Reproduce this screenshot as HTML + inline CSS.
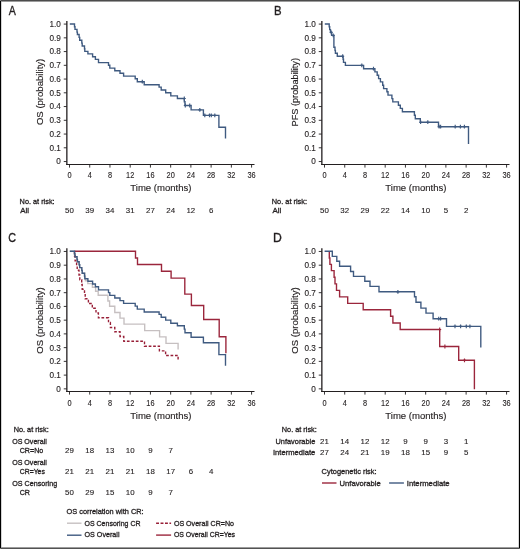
<!DOCTYPE html><html><head><meta charset="utf-8"><style>html,body{margin:0;padding:0;background:#fff;}svg{display:block;will-change:transform;} .t{stroke:#231f20;stroke-width:0.32px;} .n{stroke:#231f20;stroke-width:0.12px;} .m{stroke:#231f20;stroke-width:0.15px;}</style></head><body>
<svg width="520" height="549" viewBox="0 0 520 549" font-family="'Liberation Sans', sans-serif" fill="#231f20" stroke-width="0">
<rect x="0" y="0" width="520" height="549" fill="#fff"/>
<text x="8.85" y="14.50" font-size="12.2" text-anchor="start" textLength="7.1" lengthAdjust="spacingAndGlyphs" class="t">A</text>
<text x="274.10" y="14.60" font-size="12.2" text-anchor="start" textLength="7.6" lengthAdjust="spacingAndGlyphs" class="t">B</text>
<text x="8.35" y="241.90" font-size="12.2" text-anchor="start" textLength="7.8" lengthAdjust="spacingAndGlyphs" class="t">C</text>
<text x="272.95" y="241.80" font-size="12.2" text-anchor="start" class="t">D</text>
<line x1="66.85" y1="20.88" x2="66.85" y2="165.05" stroke="#231f20" stroke-width="1.3"/>
<line x1="66.19999999999999" y1="164.50" x2="254.5" y2="164.50" stroke="#231f20" stroke-width="1.15"/>
<line x1="63.74999999999999" y1="161.54" x2="66.85" y2="161.54" stroke="#231f20" stroke-width="0.9"/>
<text x="60.90" y="164.44" font-size="8.2" text-anchor="end" class="n">0</text>
<line x1="63.74999999999999" y1="147.79" x2="66.85" y2="147.79" stroke="#231f20" stroke-width="0.9"/>
<text x="60.90" y="150.69" font-size="8.2" text-anchor="end" class="n">0.1</text>
<line x1="63.74999999999999" y1="134.05" x2="66.85" y2="134.05" stroke="#231f20" stroke-width="0.9"/>
<text x="60.90" y="136.95" font-size="8.2" text-anchor="end" class="n">0.2</text>
<line x1="63.74999999999999" y1="120.30" x2="66.85" y2="120.30" stroke="#231f20" stroke-width="0.9"/>
<text x="60.90" y="123.20" font-size="8.2" text-anchor="end" class="n">0.3</text>
<line x1="63.74999999999999" y1="106.56" x2="66.85" y2="106.56" stroke="#231f20" stroke-width="0.9"/>
<text x="60.90" y="109.46" font-size="8.2" text-anchor="end" class="n">0.4</text>
<line x1="63.74999999999999" y1="92.81" x2="66.85" y2="92.81" stroke="#231f20" stroke-width="0.9"/>
<text x="60.90" y="95.71" font-size="8.2" text-anchor="end" class="n">0.5</text>
<line x1="63.74999999999999" y1="79.06" x2="66.85" y2="79.06" stroke="#231f20" stroke-width="0.9"/>
<text x="60.90" y="81.96" font-size="8.2" text-anchor="end" class="n">0.6</text>
<line x1="63.74999999999999" y1="65.32" x2="66.85" y2="65.32" stroke="#231f20" stroke-width="0.9"/>
<text x="60.90" y="68.22" font-size="8.2" text-anchor="end" class="n">0.7</text>
<line x1="63.74999999999999" y1="51.57" x2="66.85" y2="51.57" stroke="#231f20" stroke-width="0.9"/>
<text x="60.90" y="54.47" font-size="8.2" text-anchor="end" class="n">0.8</text>
<line x1="63.74999999999999" y1="37.83" x2="66.85" y2="37.83" stroke="#231f20" stroke-width="0.9"/>
<text x="60.90" y="40.73" font-size="8.2" text-anchor="end" class="n">0.9</text>
<line x1="63.74999999999999" y1="24.08" x2="66.85" y2="24.08" stroke="#231f20" stroke-width="0.9"/>
<text x="60.90" y="26.98" font-size="8.2" text-anchor="end" class="n">1.0</text>
<line x1="69.50" y1="164.50" x2="69.50" y2="167.60" stroke="#231f20" stroke-width="0.9"/>
<text x="69.50" y="177.90" font-size="8.3" text-anchor="middle" textLength="4.1" lengthAdjust="spacingAndGlyphs" class="n">0</text>
<line x1="89.73" y1="164.50" x2="89.73" y2="167.60" stroke="#231f20" stroke-width="0.9"/>
<text x="89.73" y="177.90" font-size="8.3" text-anchor="middle" textLength="4.1" lengthAdjust="spacingAndGlyphs" class="n">4</text>
<line x1="109.96" y1="164.50" x2="109.96" y2="167.60" stroke="#231f20" stroke-width="0.9"/>
<text x="109.96" y="177.90" font-size="8.3" text-anchor="middle" textLength="4.1" lengthAdjust="spacingAndGlyphs" class="n">8</text>
<line x1="130.20" y1="164.50" x2="130.20" y2="167.60" stroke="#231f20" stroke-width="0.9"/>
<text x="130.20" y="177.90" font-size="8.3" text-anchor="middle" textLength="8.2" lengthAdjust="spacingAndGlyphs" class="n">12</text>
<line x1="150.43" y1="164.50" x2="150.43" y2="167.60" stroke="#231f20" stroke-width="0.9"/>
<text x="150.43" y="177.90" font-size="8.3" text-anchor="middle" textLength="8.2" lengthAdjust="spacingAndGlyphs" class="n">16</text>
<line x1="170.66" y1="164.50" x2="170.66" y2="167.60" stroke="#231f20" stroke-width="0.9"/>
<text x="170.66" y="177.90" font-size="8.3" text-anchor="middle" textLength="8.2" lengthAdjust="spacingAndGlyphs" class="n">20</text>
<line x1="190.89" y1="164.50" x2="190.89" y2="167.60" stroke="#231f20" stroke-width="0.9"/>
<text x="190.89" y="177.90" font-size="8.3" text-anchor="middle" textLength="8.2" lengthAdjust="spacingAndGlyphs" class="n">24</text>
<line x1="211.12" y1="164.50" x2="211.12" y2="167.60" stroke="#231f20" stroke-width="0.9"/>
<text x="211.12" y="177.90" font-size="8.3" text-anchor="middle" textLength="8.2" lengthAdjust="spacingAndGlyphs" class="n">28</text>
<line x1="231.36" y1="164.50" x2="231.36" y2="167.60" stroke="#231f20" stroke-width="0.9"/>
<text x="231.36" y="177.90" font-size="8.3" text-anchor="middle" textLength="8.2" lengthAdjust="spacingAndGlyphs" class="n">32</text>
<line x1="251.59" y1="164.50" x2="251.59" y2="167.60" stroke="#231f20" stroke-width="0.9"/>
<text x="251.59" y="177.90" font-size="8.3" text-anchor="middle" textLength="8.2" lengthAdjust="spacingAndGlyphs" class="n">36</text>
<text x="130.30" y="191.40" font-size="9.9" text-anchor="start" textLength="61.2" lengthAdjust="spacingAndGlyphs" class="m">Time (months)</text>
<text transform="translate(42.8,91.9) rotate(-90)" font-size="9.6" text-anchor="middle" textLength="66.4" lengthAdjust="spacingAndGlyphs" class="m">OS (probability)</text>
<line x1="321.85" y1="20.88" x2="321.85" y2="165.05" stroke="#231f20" stroke-width="1.3"/>
<line x1="321.20000000000005" y1="164.50" x2="509.5" y2="164.50" stroke="#231f20" stroke-width="1.15"/>
<line x1="318.75" y1="161.54" x2="321.85" y2="161.54" stroke="#231f20" stroke-width="0.9"/>
<text x="315.90" y="164.44" font-size="8.2" text-anchor="end" class="n">0</text>
<line x1="318.75" y1="147.79" x2="321.85" y2="147.79" stroke="#231f20" stroke-width="0.9"/>
<text x="315.90" y="150.69" font-size="8.2" text-anchor="end" class="n">0.1</text>
<line x1="318.75" y1="134.05" x2="321.85" y2="134.05" stroke="#231f20" stroke-width="0.9"/>
<text x="315.90" y="136.95" font-size="8.2" text-anchor="end" class="n">0.2</text>
<line x1="318.75" y1="120.30" x2="321.85" y2="120.30" stroke="#231f20" stroke-width="0.9"/>
<text x="315.90" y="123.20" font-size="8.2" text-anchor="end" class="n">0.3</text>
<line x1="318.75" y1="106.56" x2="321.85" y2="106.56" stroke="#231f20" stroke-width="0.9"/>
<text x="315.90" y="109.46" font-size="8.2" text-anchor="end" class="n">0.4</text>
<line x1="318.75" y1="92.81" x2="321.85" y2="92.81" stroke="#231f20" stroke-width="0.9"/>
<text x="315.90" y="95.71" font-size="8.2" text-anchor="end" class="n">0.5</text>
<line x1="318.75" y1="79.06" x2="321.85" y2="79.06" stroke="#231f20" stroke-width="0.9"/>
<text x="315.90" y="81.96" font-size="8.2" text-anchor="end" class="n">0.6</text>
<line x1="318.75" y1="65.32" x2="321.85" y2="65.32" stroke="#231f20" stroke-width="0.9"/>
<text x="315.90" y="68.22" font-size="8.2" text-anchor="end" class="n">0.7</text>
<line x1="318.75" y1="51.57" x2="321.85" y2="51.57" stroke="#231f20" stroke-width="0.9"/>
<text x="315.90" y="54.47" font-size="8.2" text-anchor="end" class="n">0.8</text>
<line x1="318.75" y1="37.83" x2="321.85" y2="37.83" stroke="#231f20" stroke-width="0.9"/>
<text x="315.90" y="40.73" font-size="8.2" text-anchor="end" class="n">0.9</text>
<line x1="318.75" y1="24.08" x2="321.85" y2="24.08" stroke="#231f20" stroke-width="0.9"/>
<text x="315.90" y="26.98" font-size="8.2" text-anchor="end" class="n">1.0</text>
<line x1="324.50" y1="164.50" x2="324.50" y2="167.60" stroke="#231f20" stroke-width="0.9"/>
<text x="324.50" y="177.90" font-size="8.3" text-anchor="middle" textLength="4.1" lengthAdjust="spacingAndGlyphs" class="n">0</text>
<line x1="344.73" y1="164.50" x2="344.73" y2="167.60" stroke="#231f20" stroke-width="0.9"/>
<text x="344.73" y="177.90" font-size="8.3" text-anchor="middle" textLength="4.1" lengthAdjust="spacingAndGlyphs" class="n">4</text>
<line x1="364.96" y1="164.50" x2="364.96" y2="167.60" stroke="#231f20" stroke-width="0.9"/>
<text x="364.96" y="177.90" font-size="8.3" text-anchor="middle" textLength="4.1" lengthAdjust="spacingAndGlyphs" class="n">8</text>
<line x1="385.20" y1="164.50" x2="385.20" y2="167.60" stroke="#231f20" stroke-width="0.9"/>
<text x="385.20" y="177.90" font-size="8.3" text-anchor="middle" textLength="8.2" lengthAdjust="spacingAndGlyphs" class="n">12</text>
<line x1="405.43" y1="164.50" x2="405.43" y2="167.60" stroke="#231f20" stroke-width="0.9"/>
<text x="405.43" y="177.90" font-size="8.3" text-anchor="middle" textLength="8.2" lengthAdjust="spacingAndGlyphs" class="n">16</text>
<line x1="425.66" y1="164.50" x2="425.66" y2="167.60" stroke="#231f20" stroke-width="0.9"/>
<text x="425.66" y="177.90" font-size="8.3" text-anchor="middle" textLength="8.2" lengthAdjust="spacingAndGlyphs" class="n">20</text>
<line x1="445.89" y1="164.50" x2="445.89" y2="167.60" stroke="#231f20" stroke-width="0.9"/>
<text x="445.89" y="177.90" font-size="8.3" text-anchor="middle" textLength="8.2" lengthAdjust="spacingAndGlyphs" class="n">24</text>
<line x1="466.12" y1="164.50" x2="466.12" y2="167.60" stroke="#231f20" stroke-width="0.9"/>
<text x="466.12" y="177.90" font-size="8.3" text-anchor="middle" textLength="8.2" lengthAdjust="spacingAndGlyphs" class="n">28</text>
<line x1="486.36" y1="164.50" x2="486.36" y2="167.60" stroke="#231f20" stroke-width="0.9"/>
<text x="486.36" y="177.90" font-size="8.3" text-anchor="middle" textLength="8.2" lengthAdjust="spacingAndGlyphs" class="n">32</text>
<line x1="506.59" y1="164.50" x2="506.59" y2="167.60" stroke="#231f20" stroke-width="0.9"/>
<text x="506.59" y="177.90" font-size="8.3" text-anchor="middle" textLength="8.2" lengthAdjust="spacingAndGlyphs" class="n">36</text>
<text x="385.30" y="191.40" font-size="9.9" text-anchor="start" textLength="61.2" lengthAdjust="spacingAndGlyphs" class="m">Time (months)</text>
<text transform="translate(297.8,92.25) rotate(-90)" font-size="9.6" text-anchor="middle" textLength="68.5" lengthAdjust="spacingAndGlyphs" class="m">PFS (probability)</text>
<line x1="66.85" y1="248.26" x2="66.85" y2="392.05" stroke="#231f20" stroke-width="1.3"/>
<line x1="66.19999999999999" y1="391.50" x2="254.5" y2="391.50" stroke="#231f20" stroke-width="1.15"/>
<line x1="63.74999999999999" y1="388.85" x2="66.85" y2="388.85" stroke="#231f20" stroke-width="0.9"/>
<text x="60.90" y="391.75" font-size="8.2" text-anchor="end" class="n">0</text>
<line x1="63.74999999999999" y1="375.11" x2="66.85" y2="375.11" stroke="#231f20" stroke-width="0.9"/>
<text x="60.90" y="378.01" font-size="8.2" text-anchor="end" class="n">0.1</text>
<line x1="63.74999999999999" y1="361.37" x2="66.85" y2="361.37" stroke="#231f20" stroke-width="0.9"/>
<text x="60.90" y="364.27" font-size="8.2" text-anchor="end" class="n">0.2</text>
<line x1="63.74999999999999" y1="347.63" x2="66.85" y2="347.63" stroke="#231f20" stroke-width="0.9"/>
<text x="60.90" y="350.53" font-size="8.2" text-anchor="end" class="n">0.3</text>
<line x1="63.74999999999999" y1="333.89" x2="66.85" y2="333.89" stroke="#231f20" stroke-width="0.9"/>
<text x="60.90" y="336.79" font-size="8.2" text-anchor="end" class="n">0.4</text>
<line x1="63.74999999999999" y1="320.16" x2="66.85" y2="320.16" stroke="#231f20" stroke-width="0.9"/>
<text x="60.90" y="323.06" font-size="8.2" text-anchor="end" class="n">0.5</text>
<line x1="63.74999999999999" y1="306.42" x2="66.85" y2="306.42" stroke="#231f20" stroke-width="0.9"/>
<text x="60.90" y="309.32" font-size="8.2" text-anchor="end" class="n">0.6</text>
<line x1="63.74999999999999" y1="292.68" x2="66.85" y2="292.68" stroke="#231f20" stroke-width="0.9"/>
<text x="60.90" y="295.58" font-size="8.2" text-anchor="end" class="n">0.7</text>
<line x1="63.74999999999999" y1="278.94" x2="66.85" y2="278.94" stroke="#231f20" stroke-width="0.9"/>
<text x="60.90" y="281.84" font-size="8.2" text-anchor="end" class="n">0.8</text>
<line x1="63.74999999999999" y1="265.20" x2="66.85" y2="265.20" stroke="#231f20" stroke-width="0.9"/>
<text x="60.90" y="268.10" font-size="8.2" text-anchor="end" class="n">0.9</text>
<line x1="63.74999999999999" y1="251.46" x2="66.85" y2="251.46" stroke="#231f20" stroke-width="0.9"/>
<text x="60.90" y="254.36" font-size="8.2" text-anchor="end" class="n">1.0</text>
<line x1="69.50" y1="391.50" x2="69.50" y2="394.60" stroke="#231f20" stroke-width="0.9"/>
<text x="69.50" y="405.60" font-size="8.3" text-anchor="middle" textLength="4.1" lengthAdjust="spacingAndGlyphs" class="n">0</text>
<line x1="89.73" y1="391.50" x2="89.73" y2="394.60" stroke="#231f20" stroke-width="0.9"/>
<text x="89.73" y="405.60" font-size="8.3" text-anchor="middle" textLength="4.1" lengthAdjust="spacingAndGlyphs" class="n">4</text>
<line x1="109.96" y1="391.50" x2="109.96" y2="394.60" stroke="#231f20" stroke-width="0.9"/>
<text x="109.96" y="405.60" font-size="8.3" text-anchor="middle" textLength="4.1" lengthAdjust="spacingAndGlyphs" class="n">8</text>
<line x1="130.20" y1="391.50" x2="130.20" y2="394.60" stroke="#231f20" stroke-width="0.9"/>
<text x="130.20" y="405.60" font-size="8.3" text-anchor="middle" textLength="8.2" lengthAdjust="spacingAndGlyphs" class="n">12</text>
<line x1="150.43" y1="391.50" x2="150.43" y2="394.60" stroke="#231f20" stroke-width="0.9"/>
<text x="150.43" y="405.60" font-size="8.3" text-anchor="middle" textLength="8.2" lengthAdjust="spacingAndGlyphs" class="n">16</text>
<line x1="170.66" y1="391.50" x2="170.66" y2="394.60" stroke="#231f20" stroke-width="0.9"/>
<text x="170.66" y="405.60" font-size="8.3" text-anchor="middle" textLength="8.2" lengthAdjust="spacingAndGlyphs" class="n">20</text>
<line x1="190.89" y1="391.50" x2="190.89" y2="394.60" stroke="#231f20" stroke-width="0.9"/>
<text x="190.89" y="405.60" font-size="8.3" text-anchor="middle" textLength="8.2" lengthAdjust="spacingAndGlyphs" class="n">24</text>
<line x1="211.12" y1="391.50" x2="211.12" y2="394.60" stroke="#231f20" stroke-width="0.9"/>
<text x="211.12" y="405.60" font-size="8.3" text-anchor="middle" textLength="8.2" lengthAdjust="spacingAndGlyphs" class="n">28</text>
<line x1="231.36" y1="391.50" x2="231.36" y2="394.60" stroke="#231f20" stroke-width="0.9"/>
<text x="231.36" y="405.60" font-size="8.3" text-anchor="middle" textLength="8.2" lengthAdjust="spacingAndGlyphs" class="n">32</text>
<line x1="251.59" y1="391.50" x2="251.59" y2="394.60" stroke="#231f20" stroke-width="0.9"/>
<text x="251.59" y="405.60" font-size="8.3" text-anchor="middle" textLength="8.2" lengthAdjust="spacingAndGlyphs" class="n">36</text>
<text x="130.30" y="419.10" font-size="9.9" text-anchor="start" textLength="61.2" lengthAdjust="spacingAndGlyphs" class="m">Time (months)</text>
<text transform="translate(42.8,320.5) rotate(-90)" font-size="9.6" text-anchor="middle" textLength="66.3" lengthAdjust="spacingAndGlyphs" class="m">OS (probability)</text>
<line x1="321.85" y1="248.26" x2="321.85" y2="392.05" stroke="#231f20" stroke-width="1.3"/>
<line x1="321.20000000000005" y1="391.50" x2="509.5" y2="391.50" stroke="#231f20" stroke-width="1.15"/>
<line x1="318.75" y1="388.85" x2="321.85" y2="388.85" stroke="#231f20" stroke-width="0.9"/>
<text x="315.90" y="391.75" font-size="8.2" text-anchor="end" class="n">0</text>
<line x1="318.75" y1="375.11" x2="321.85" y2="375.11" stroke="#231f20" stroke-width="0.9"/>
<text x="315.90" y="378.01" font-size="8.2" text-anchor="end" class="n">0.1</text>
<line x1="318.75" y1="361.37" x2="321.85" y2="361.37" stroke="#231f20" stroke-width="0.9"/>
<text x="315.90" y="364.27" font-size="8.2" text-anchor="end" class="n">0.2</text>
<line x1="318.75" y1="347.63" x2="321.85" y2="347.63" stroke="#231f20" stroke-width="0.9"/>
<text x="315.90" y="350.53" font-size="8.2" text-anchor="end" class="n">0.3</text>
<line x1="318.75" y1="333.89" x2="321.85" y2="333.89" stroke="#231f20" stroke-width="0.9"/>
<text x="315.90" y="336.79" font-size="8.2" text-anchor="end" class="n">0.4</text>
<line x1="318.75" y1="320.16" x2="321.85" y2="320.16" stroke="#231f20" stroke-width="0.9"/>
<text x="315.90" y="323.06" font-size="8.2" text-anchor="end" class="n">0.5</text>
<line x1="318.75" y1="306.42" x2="321.85" y2="306.42" stroke="#231f20" stroke-width="0.9"/>
<text x="315.90" y="309.32" font-size="8.2" text-anchor="end" class="n">0.6</text>
<line x1="318.75" y1="292.68" x2="321.85" y2="292.68" stroke="#231f20" stroke-width="0.9"/>
<text x="315.90" y="295.58" font-size="8.2" text-anchor="end" class="n">0.7</text>
<line x1="318.75" y1="278.94" x2="321.85" y2="278.94" stroke="#231f20" stroke-width="0.9"/>
<text x="315.90" y="281.84" font-size="8.2" text-anchor="end" class="n">0.8</text>
<line x1="318.75" y1="265.20" x2="321.85" y2="265.20" stroke="#231f20" stroke-width="0.9"/>
<text x="315.90" y="268.10" font-size="8.2" text-anchor="end" class="n">0.9</text>
<line x1="318.75" y1="251.46" x2="321.85" y2="251.46" stroke="#231f20" stroke-width="0.9"/>
<text x="315.90" y="254.36" font-size="8.2" text-anchor="end" class="n">1.0</text>
<line x1="324.50" y1="391.50" x2="324.50" y2="394.60" stroke="#231f20" stroke-width="0.9"/>
<text x="324.50" y="405.60" font-size="8.3" text-anchor="middle" textLength="4.1" lengthAdjust="spacingAndGlyphs" class="n">0</text>
<line x1="344.73" y1="391.50" x2="344.73" y2="394.60" stroke="#231f20" stroke-width="0.9"/>
<text x="344.73" y="405.60" font-size="8.3" text-anchor="middle" textLength="4.1" lengthAdjust="spacingAndGlyphs" class="n">4</text>
<line x1="364.96" y1="391.50" x2="364.96" y2="394.60" stroke="#231f20" stroke-width="0.9"/>
<text x="364.96" y="405.60" font-size="8.3" text-anchor="middle" textLength="4.1" lengthAdjust="spacingAndGlyphs" class="n">8</text>
<line x1="385.20" y1="391.50" x2="385.20" y2="394.60" stroke="#231f20" stroke-width="0.9"/>
<text x="385.20" y="405.60" font-size="8.3" text-anchor="middle" textLength="8.2" lengthAdjust="spacingAndGlyphs" class="n">12</text>
<line x1="405.43" y1="391.50" x2="405.43" y2="394.60" stroke="#231f20" stroke-width="0.9"/>
<text x="405.43" y="405.60" font-size="8.3" text-anchor="middle" textLength="8.2" lengthAdjust="spacingAndGlyphs" class="n">16</text>
<line x1="425.66" y1="391.50" x2="425.66" y2="394.60" stroke="#231f20" stroke-width="0.9"/>
<text x="425.66" y="405.60" font-size="8.3" text-anchor="middle" textLength="8.2" lengthAdjust="spacingAndGlyphs" class="n">20</text>
<line x1="445.89" y1="391.50" x2="445.89" y2="394.60" stroke="#231f20" stroke-width="0.9"/>
<text x="445.89" y="405.60" font-size="8.3" text-anchor="middle" textLength="8.2" lengthAdjust="spacingAndGlyphs" class="n">24</text>
<line x1="466.12" y1="391.50" x2="466.12" y2="394.60" stroke="#231f20" stroke-width="0.9"/>
<text x="466.12" y="405.60" font-size="8.3" text-anchor="middle" textLength="8.2" lengthAdjust="spacingAndGlyphs" class="n">28</text>
<line x1="486.36" y1="391.50" x2="486.36" y2="394.60" stroke="#231f20" stroke-width="0.9"/>
<text x="486.36" y="405.60" font-size="8.3" text-anchor="middle" textLength="8.2" lengthAdjust="spacingAndGlyphs" class="n">32</text>
<line x1="506.59" y1="391.50" x2="506.59" y2="394.60" stroke="#231f20" stroke-width="0.9"/>
<text x="506.59" y="405.60" font-size="8.3" text-anchor="middle" textLength="8.2" lengthAdjust="spacingAndGlyphs" class="n">36</text>
<text x="385.30" y="419.10" font-size="9.9" text-anchor="start" textLength="61.2" lengthAdjust="spacingAndGlyphs" class="m">Time (months)</text>
<text transform="translate(297.8,320.5) rotate(-90)" font-size="9.6" text-anchor="middle" textLength="66.3" lengthAdjust="spacingAndGlyphs" class="m">OS (probability)</text>
<text x="19.60" y="204.00" font-size="8.1" text-anchor="start" textLength="35.0" lengthAdjust="spacingAndGlyphs" class="t">No. at risk:</text>
<text x="20.20" y="213.20" font-size="7.9" text-anchor="start" class="t">All</text>
<text x="69.50" y="213.20" font-size="7.9" text-anchor="middle" class="n">50</text>
<text x="89.73" y="213.20" font-size="7.9" text-anchor="middle" class="n">39</text>
<text x="109.96" y="213.20" font-size="7.9" text-anchor="middle" class="n">34</text>
<text x="130.20" y="213.20" font-size="7.9" text-anchor="middle" class="n">31</text>
<text x="150.43" y="213.20" font-size="7.9" text-anchor="middle" class="n">27</text>
<text x="170.66" y="213.20" font-size="7.9" text-anchor="middle" class="n">24</text>
<text x="190.89" y="213.20" font-size="7.9" text-anchor="middle" class="n">12</text>
<text x="211.12" y="213.20" font-size="7.9" text-anchor="middle" class="n">6</text>
<text x="271.80" y="203.80" font-size="8.1" text-anchor="start" textLength="35.2" lengthAdjust="spacingAndGlyphs" class="t">No. at risk:</text>
<text x="272.40" y="213.20" font-size="7.9" text-anchor="start" class="t">All</text>
<text x="324.50" y="213.20" font-size="7.9" text-anchor="middle" class="n">50</text>
<text x="344.73" y="213.20" font-size="7.9" text-anchor="middle" class="n">32</text>
<text x="364.96" y="213.20" font-size="7.9" text-anchor="middle" class="n">29</text>
<text x="385.20" y="213.20" font-size="7.9" text-anchor="middle" class="n">22</text>
<text x="405.43" y="213.20" font-size="7.9" text-anchor="middle" class="n">14</text>
<text x="425.66" y="213.20" font-size="7.9" text-anchor="middle" class="n">10</text>
<text x="445.89" y="213.20" font-size="7.9" text-anchor="middle" class="n">5</text>
<text x="466.12" y="213.20" font-size="7.9" text-anchor="middle" class="n">2</text>
<text x="13.70" y="431.80" font-size="8.1" text-anchor="start" textLength="35.0" lengthAdjust="spacingAndGlyphs" class="t">No. at risk:</text>
<text x="12.20" y="443.70" font-size="8.1" text-anchor="start" textLength="34.6" lengthAdjust="spacingAndGlyphs" class="t">OS Overall</text>
<text x="19.70" y="452.90" font-size="8.1" text-anchor="start" textLength="23.6" lengthAdjust="spacingAndGlyphs" class="t">CR=No</text>
<text x="12.20" y="464.50" font-size="8.1" text-anchor="start" textLength="34.6" lengthAdjust="spacingAndGlyphs" class="t">OS Overall</text>
<text x="19.70" y="474.00" font-size="8.1" text-anchor="start" textLength="25.2" lengthAdjust="spacingAndGlyphs" class="t">CR=Yes</text>
<text x="12.20" y="485.60" font-size="8.1" text-anchor="start" textLength="45.0" lengthAdjust="spacingAndGlyphs" class="t">OS Censoring</text>
<text x="19.70" y="495.40" font-size="8.1" text-anchor="start" textLength="10.3" lengthAdjust="spacingAndGlyphs" class="t">CR</text>
<text x="69.50" y="452.90" font-size="7.9" text-anchor="middle" class="n">29</text>
<text x="89.73" y="452.90" font-size="7.9" text-anchor="middle" class="n">18</text>
<text x="109.96" y="452.90" font-size="7.9" text-anchor="middle" class="n">13</text>
<text x="130.20" y="452.90" font-size="7.9" text-anchor="middle" class="n">10</text>
<text x="150.43" y="452.90" font-size="7.9" text-anchor="middle" class="n">9</text>
<text x="170.66" y="452.90" font-size="7.9" text-anchor="middle" class="n">7</text>
<text x="69.50" y="474.00" font-size="7.9" text-anchor="middle" class="n">21</text>
<text x="89.73" y="474.00" font-size="7.9" text-anchor="middle" class="n">21</text>
<text x="109.96" y="474.00" font-size="7.9" text-anchor="middle" class="n">21</text>
<text x="130.20" y="474.00" font-size="7.9" text-anchor="middle" class="n">21</text>
<text x="150.43" y="474.00" font-size="7.9" text-anchor="middle" class="n">18</text>
<text x="170.66" y="474.00" font-size="7.9" text-anchor="middle" class="n">17</text>
<text x="190.89" y="474.00" font-size="7.9" text-anchor="middle" class="n">6</text>
<text x="211.12" y="474.00" font-size="7.9" text-anchor="middle" class="n">4</text>
<text x="69.50" y="495.40" font-size="7.9" text-anchor="middle" class="n">50</text>
<text x="89.73" y="495.40" font-size="7.9" text-anchor="middle" class="n">29</text>
<text x="109.96" y="495.40" font-size="7.9" text-anchor="middle" class="n">15</text>
<text x="130.20" y="495.40" font-size="7.9" text-anchor="middle" class="n">10</text>
<text x="150.43" y="495.40" font-size="7.9" text-anchor="middle" class="n">9</text>
<text x="170.66" y="495.40" font-size="7.9" text-anchor="middle" class="n">7</text>
<text x="66.60" y="514.00" font-size="8.1" text-anchor="start" textLength="77.0" lengthAdjust="spacingAndGlyphs" class="t">OS correlation with CR:</text>
<line x1="67" y1="523.2" x2="81.5" y2="523.2" stroke="#c6c0c1" stroke-width="1.4"/>
<text x="84.50" y="525.80" font-size="8.1" text-anchor="start" textLength="56.0" lengthAdjust="spacingAndGlyphs" class="t">OS Censoring CR</text>
<line x1="67" y1="535.2" x2="81.5" y2="535.2" stroke="#3f5a80" stroke-width="1.4"/>
<text x="84.50" y="537.30" font-size="8.1" text-anchor="start" textLength="35.0" lengthAdjust="spacingAndGlyphs" class="t">OS Overall</text>
<line x1="156.1" y1="523.3" x2="171.1" y2="523.3" stroke="#981f37" stroke-width="1.4" stroke-dasharray="2.9 1.55"/>
<text x="173.90" y="525.80" font-size="8.1" text-anchor="start" textLength="60.1" lengthAdjust="spacingAndGlyphs" class="t">OS Overall CR=No</text>
<line x1="156.1" y1="535.1" x2="171.1" y2="535.1" stroke="#9b263c" stroke-width="1.4"/>
<text x="173.90" y="537.30" font-size="8.1" text-anchor="start" textLength="61.2" lengthAdjust="spacingAndGlyphs" class="t">OS Overall CR=Yes</text>
<text x="316.80" y="431.60" font-size="8.1" text-anchor="end" textLength="35.0" lengthAdjust="spacingAndGlyphs" class="t">No. at risk:</text>
<text x="315.30" y="443.70" font-size="8.1" text-anchor="end" textLength="39.8" lengthAdjust="spacingAndGlyphs" class="t">Unfavorable</text>
<text x="315.30" y="455.40" font-size="8.1" text-anchor="end" textLength="42.3" lengthAdjust="spacingAndGlyphs" class="t">Intermediate</text>
<text x="324.50" y="443.60" font-size="7.9" text-anchor="middle" class="n">21</text>
<text x="344.73" y="443.60" font-size="7.9" text-anchor="middle" class="n">14</text>
<text x="364.96" y="443.60" font-size="7.9" text-anchor="middle" class="n">12</text>
<text x="385.20" y="443.60" font-size="7.9" text-anchor="middle" class="n">12</text>
<text x="405.43" y="443.60" font-size="7.9" text-anchor="middle" class="n">9</text>
<text x="425.66" y="443.60" font-size="7.9" text-anchor="middle" class="n">9</text>
<text x="445.89" y="443.60" font-size="7.9" text-anchor="middle" class="n">3</text>
<text x="466.12" y="443.60" font-size="7.9" text-anchor="middle" class="n">1</text>
<text x="324.50" y="455.30" font-size="7.9" text-anchor="middle" class="n">27</text>
<text x="344.73" y="455.30" font-size="7.9" text-anchor="middle" class="n">24</text>
<text x="364.96" y="455.30" font-size="7.9" text-anchor="middle" class="n">21</text>
<text x="385.20" y="455.30" font-size="7.9" text-anchor="middle" class="n">19</text>
<text x="405.43" y="455.30" font-size="7.9" text-anchor="middle" class="n">18</text>
<text x="425.66" y="455.30" font-size="7.9" text-anchor="middle" class="n">15</text>
<text x="445.89" y="455.30" font-size="7.9" text-anchor="middle" class="n">9</text>
<text x="466.12" y="455.30" font-size="7.9" text-anchor="middle" class="n">5</text>
<text x="321.60" y="473.50" font-size="8.1" text-anchor="start" textLength="55.0" lengthAdjust="spacingAndGlyphs" class="t">Cytogenetic risk:</text>
<line x1="322" y1="483" x2="336.5" y2="483" stroke="#9b263c" stroke-width="1.4"/>
<text x="339.50" y="485.60" font-size="8.1" text-anchor="start" textLength="41.2" lengthAdjust="spacingAndGlyphs" class="t">Unfavorable</text>
<line x1="389.1" y1="483" x2="403.9" y2="483" stroke="#3f5a80" stroke-width="1.4"/>
<text x="406.80" y="485.70" font-size="8.1" text-anchor="start" textLength="42.8" lengthAdjust="spacingAndGlyphs" class="t">Intermediate</text>
<path d="M69.8,24 H74.5 V26.7 H75.0 V29.4 H77.0 V32.1 H77.4 V34.5 H79.1 V37.4 H79.7 V40.3 H81.8 V43.1 H82.2 V46.0 H84.5 V48.7 H84.8 V51.4 H87.9 V53.9 H92.6 V56.7 H95.4 V59.4 H98.5 V62.6 H108.5 V65.3 H109.8 V68.1 H114.8 V70.7 H120.0 V73.3 H123.6 V76.1 H135.2 V78.8 H137.3 V81.8 H144.2 V84.7 H159.1 V87.1 H161.2 V90.0 H165.7 V92.8 H170.8 V95.9 H177.4 V98.5 H184.3 V101.8 H185.0 V105.5 H191.1 V109.9 H203.4 V115.4 H218.9 V127.3 H225.5 V138.5" fill="none" stroke="#3f5a80" stroke-width="1.38" stroke-linejoin="miter" stroke-linecap="butt"/>
<path d="M142.30,79.80 V83.60 M140.80,81.70 H143.80" stroke="#3f5a80" stroke-width="1.15" fill="none"/>
<path d="M184.30,96.60 V100.40 M182.80,98.50 H185.80" stroke="#3f5a80" stroke-width="1.15" fill="none"/>
<path d="M185.30,103.60 V107.40 M183.80,105.50 H186.80" stroke="#3f5a80" stroke-width="1.15" fill="none"/>
<path d="M189.70,103.60 V107.40 M188.20,105.50 H191.20" stroke="#3f5a80" stroke-width="1.15" fill="none"/>
<path d="M199.80,108.00 V111.80 M198.30,109.90 H201.30" stroke="#3f5a80" stroke-width="1.15" fill="none"/>
<path d="M204.80,113.50 V117.30 M203.30,115.40 H206.30" stroke="#3f5a80" stroke-width="1.15" fill="none"/>
<path d="M209.50,113.50 V117.30 M208.00,115.40 H211.00" stroke="#3f5a80" stroke-width="1.15" fill="none"/>
<path d="M211.30,113.50 V117.30 M209.80,115.40 H212.80" stroke="#3f5a80" stroke-width="1.15" fill="none"/>
<path d="M214.80,113.50 V117.30 M213.30,115.40 H216.30" stroke="#3f5a80" stroke-width="1.15" fill="none"/>
<path d="M324.8,24 H329.2 V26.8 H329.7 V29.6 H330.5 V32.4 H331.6 V35.4 H333.9 V47.3 H335.0 V50.4 H335.4 V53.2 H337.3 V56.2 H343.1 V59.3 H343.5 V62.4 H345.4 V65.4 H363.6 V68.7 H374.9 V71.9 H377.2 V75.2 H378.6 V78.6 H380.4 V81.9 H382.7 V85.2 H383.6 V88.6 H386.9 V91.7 H388.0 V95.1 H391.9 V98.6 H392.8 V101.9 H398.4 V105.2 H400.3 V108.4 H402.4 V111.8 H414.4 V115.2 H415.3 V118.8 H420.3 V122.2 H438.5 V126.7 H468.5 V144.0" fill="none" stroke="#3f5a80" stroke-width="1.38" stroke-linejoin="miter" stroke-linecap="butt"/>
<path d="M331.20,30.50 V34.30 M329.70,32.40 H332.70" stroke="#3f5a80" stroke-width="1.15" fill="none"/>
<path d="M333.20,33.50 V37.30 M331.70,35.40 H334.70" stroke="#3f5a80" stroke-width="1.15" fill="none"/>
<path d="M342.70,54.30 V58.10 M341.20,56.20 H344.20" stroke="#3f5a80" stroke-width="1.15" fill="none"/>
<path d="M361.80,63.50 V67.30 M360.30,65.40 H363.30" stroke="#3f5a80" stroke-width="1.15" fill="none"/>
<path d="M373.50,66.80 V70.60 M372.00,68.70 H375.00" stroke="#3f5a80" stroke-width="1.15" fill="none"/>
<path d="M420.60,120.30 V124.10 M419.10,122.20 H422.10" stroke="#3f5a80" stroke-width="1.15" fill="none"/>
<path d="M427.80,120.30 V124.10 M426.30,122.20 H429.30" stroke="#3f5a80" stroke-width="1.15" fill="none"/>
<path d="M439.10,124.80 V128.60 M437.60,126.70 H440.60" stroke="#3f5a80" stroke-width="1.15" fill="none"/>
<path d="M440.60,124.80 V128.60 M439.10,126.70 H442.10" stroke="#3f5a80" stroke-width="1.15" fill="none"/>
<path d="M455.20,124.80 V128.60 M453.70,126.70 H456.70" stroke="#3f5a80" stroke-width="1.15" fill="none"/>
<path d="M460.40,124.80 V128.60 M458.90,126.70 H461.90" stroke="#3f5a80" stroke-width="1.15" fill="none"/>
<path d="M464.40,124.80 V128.60 M462.90,126.70 H465.90" stroke="#3f5a80" stroke-width="1.15" fill="none"/>
<path d="M69.8,251.3 H74.5 V254.0 H75.0 V256.7 H77.0 V259.4 H77.4 V261.8 H79.1 V264.7 H79.7 V267.6 H81.8 V270.4 H82.2 V273.3 H84.9 V277.0 H85.4 V280.7 H87.8 V283.6 H92.4 V287.3 H95.6 V291.3 H98.2 V295.2 H107.9 V301.0 H109.6 V306.3 H114.8 V312.5 H120.0 V318.1 H124.0 V324.1 H144.7 V330.6 H159.6 V336.9 H166.0 V343.4 H178.1 V349.6" fill="none" stroke="#c6c0c1" stroke-width="1.38" stroke-linejoin="miter" stroke-linecap="butt"/>
<path d="M74.5,251.3 V256.0 H75.1 V260.8 H76.6 V265.5 H77.2 V270.3 H79.0 V275.0 H79.8 V279.8 H81.7 V284.5 H82.2 V289.3 H84.5 V294.0 H85.2 V298.8 H88.4 V303.5 H92.3 V308.3 H96.0 V313.0 H98.4 V317.8 H108.5 V322.5 H110.4 V327.5 H114.8 V331.8 H120.0 V336.5 H123.8 V341.3 H144.5 V346.2 H159.4 V350.9 H165.6 V355.5 H178.1 V360.0" fill="none" stroke="#981f37" stroke-width="1.38" stroke-linejoin="miter" stroke-linecap="butt" stroke-dasharray="2.7 1.75"/>
<path d="M74.5,251.3 H135.5 V258.0 H137.5 V264.5 H161.5 V271.2 H171.1 V278.1 H184.8 V294.1 H191.4 V305.5 H203.7 V319.5 H219.2 V336.8 H225.9 V353.3" fill="none" stroke="#9b263c" stroke-width="1.38" stroke-linejoin="miter" stroke-linecap="butt"/>
<path d="M 69.80,251.30 H 74.50 V 254.00 H 75.00 V 256.70 H 77.00 V 259.40 H 77.40 V 261.80 H 79.10 V 264.70 H 79.70 V 267.60 H 81.80 V 270.40 H 82.20 V 273.30 H 84.50 V 276.00 H 84.80 V 278.70 H 87.90 V 281.20 H 92.60 V 284.00 H 95.40 V 286.70 H 98.50 V 289.90 H 108.50 V 292.60 H 109.80 V 295.40 H 114.80 V 298.00 H 120.00 V 300.60 H 123.60 V 303.40 H 135.20 V 306.10 H 137.30 V 309.10 H 144.20 V 312.00 H 159.10 V 314.40 H 161.20 V 317.30 H 165.70 V 320.10 H 170.80 V 323.20 H 177.40 V 325.80 H 184.30 V 329.10 H 185.00 V 332.80 H 191.10 V 337.20 H 203.40 V 342.70 H 218.90 V 354.60 H 225.50 V 365.80" fill="none" stroke="#3f5a80" stroke-width="1.38" stroke-linejoin="miter" stroke-linecap="butt"/>
<path d="M329.3,251.3 V258.0 H329.9 V264.4 H331.4 V270.6 H334.1 V277.3 H335.0 V283.9 H336.5 V290.4 H339.6 V296.9 H347.7 V303.4 H363.2 V309.8 H390.6 V316.3 H392.9 V323.0 H400.2 V329.5 H439.7 V346.5 H458.7 V360.3 H474.4 V389.3" fill="none" stroke="#9b263c" stroke-width="1.38" stroke-linejoin="miter" stroke-linecap="butt"/>
<path d="M439.70,327.60 V331.40 M438.20,329.50 H441.20" stroke="#9b263c" stroke-width="1.15" fill="none"/>
<path d="M444.90,344.60 V348.40 M443.40,346.50 H446.40" stroke="#9b263c" stroke-width="1.15" fill="none"/>
<path d="M464.50,358.40 V362.20 M463.00,360.30 H466.00" stroke="#9b263c" stroke-width="1.15" fill="none"/>
<path d="M324.6,251.3 H332.3 V256.4 H336.8 V261.3 H339.6 V266.3 H350.6 V271.5 H353.5 V276.4 H364.8 V281.3 H370.0 V286.4 H379.0 V291.8 H414.5 V296.8 H416.0 V302.3 H420.9 V308.1 H426.0 V313.1 H433.1 V318.7 H446.5 V326.4 H480.8 V347.4" fill="none" stroke="#3f5a80" stroke-width="1.38" stroke-linejoin="miter" stroke-linecap="butt"/>
<path d="M397.90,289.90 V293.70 M396.40,291.80 H399.40" stroke="#3f5a80" stroke-width="1.15" fill="none"/>
<path d="M438.70,316.80 V320.60 M437.20,318.70 H440.20" stroke="#3f5a80" stroke-width="1.15" fill="none"/>
<path d="M440.60,316.80 V320.60 M439.10,318.70 H442.10" stroke="#3f5a80" stroke-width="1.15" fill="none"/>
<path d="M455.00,324.50 V328.30 M453.50,326.40 H456.50" stroke="#3f5a80" stroke-width="1.15" fill="none"/>
<path d="M460.60,324.50 V328.30 M459.10,326.40 H462.10" stroke="#3f5a80" stroke-width="1.15" fill="none"/>
<path d="M466.30,324.50 V328.30 M464.80,326.40 H467.80" stroke="#3f5a80" stroke-width="1.15" fill="none"/>
<path d="M469.90,324.50 V328.30 M468.40,326.40 H471.40" stroke="#3f5a80" stroke-width="1.15" fill="none"/>
<rect x="1" y="2" width="1" height="545" fill="#d4d4d4"/>
<rect x="518" y="2" width="1" height="545" fill="#d8d8d8"/>
<rect x="0" y="1" width="1" height="547" fill="#000"/>
<rect x="519" y="1" width="1" height="547" fill="#000"/>
<rect x="1" y="0" width="518" height="1" fill="#4c4c4c"/>
<rect x="1" y="1" width="518" height="1" fill="#9c9c9c"/>
<rect x="1" y="548" width="518" height="1" fill="#525252"/>
<rect x="1" y="547" width="518" height="1" fill="#9c9c9c"/>
<rect x="0" y="0" width="1" height="1" fill="#808080"/>
<rect x="519" y="0" width="1" height="1" fill="#6a6a6a"/>
<rect x="0" y="548" width="1" height="1" fill="#777"/>
<rect x="519" y="548" width="1" height="1" fill="#6a6a6a"/>
</svg></body></html>
